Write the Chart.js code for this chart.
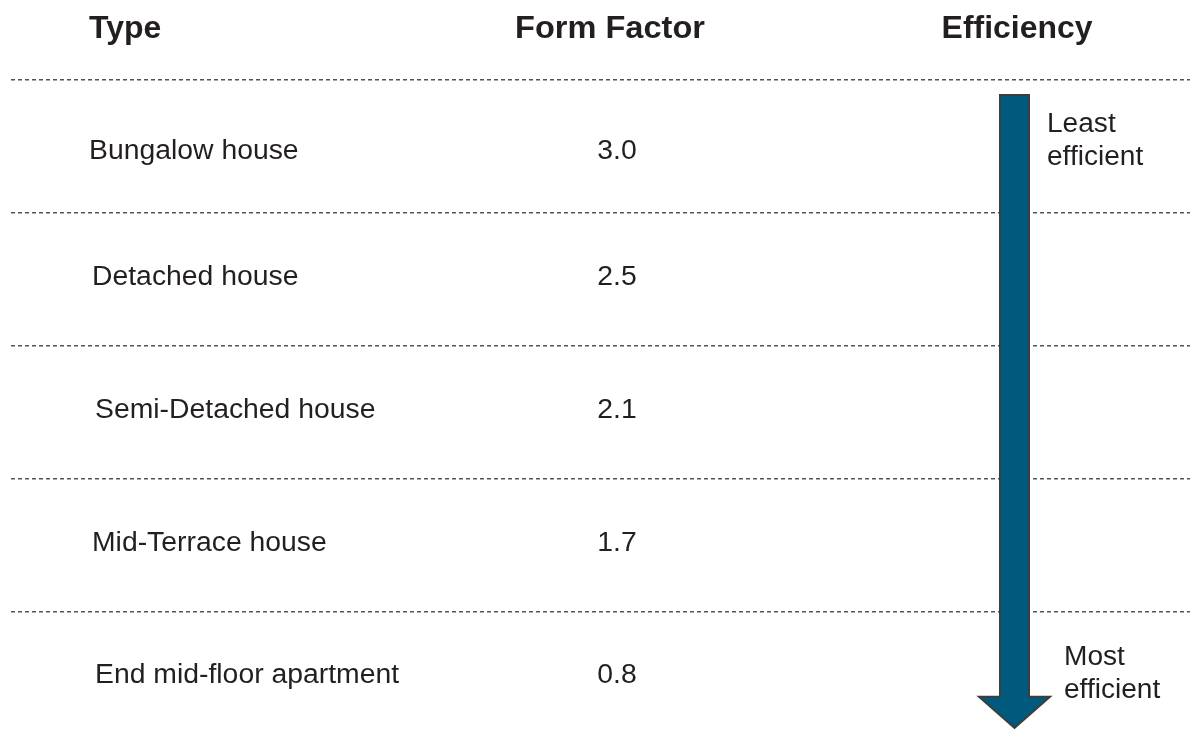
<!DOCTYPE html>
<html>
<head>
<meta charset="utf-8">
<script src="https://cdn.jsdelivr.net/npm/chart.js@4/dist/chart.umd.min.js"></script>
<style>
  html, body { margin: 0; padding: 0; background: #fff; }
  canvas { display: block; }
</style>
</head>
<body>
<canvas id="myChart" width="1195" height="743"></canvas>
<script>
const headers = ["Type", "Form Factor", "Efficiency"];
const types = ["Bungalow house", "Detached house", "Semi-Detached house", "Mid-Terrace house", "End mid-floor apartment"];
const formFactors = [3.0, 2.5, 2.1, 1.7, 0.8];
const topLabel = ["Least", "efficient"];
const bottomLabel = ["Most", "efficient"];
const rowLines = [0, 1, 2, 3, 4];

const textColor = "#231f20";
// row text spots (y in row units, x on the x scale)
const rowPos = [0.54, 1.49, 2.49, 3.49, 4.48];
const labelX = [89, 92, 95, 92, 95];

// text in the picture is a bit wider than the font, so stretch it a little
function stretchText(ctx, txt, px, py, sx) {
  ctx.save();
  ctx.translate(px, py);
  ctx.scale(sx, 1);
  ctx.fillText(txt, 0, 0);
  ctx.restore();
}

// draws the table text and the efficiency arrow using the chart scales
const tablePlugin = {
  id: "tablePlugin",
  afterDraw(chart) {
    const ctx = chart.ctx;
    const x = chart.scales.x;
    const y = chart.scales.y;
    ctx.save();
    ctx.fillStyle = textColor;
    ctx.textBaseline = "middle";

    // headers
    ctx.font = "bold 31px 'Liberation Sans', Arial, sans-serif";
    ctx.textAlign = "left";
    stretchText(ctx, headers[0], x.getPixelForValue(89), y.getPixelForValue(-0.38), 1.03);
    ctx.textAlign = "center";
    stretchText(ctx, headers[1], x.getPixelForValue(610), y.getPixelForValue(-0.38), 1.05);
    stretchText(ctx, headers[2], x.getPixelForValue(1017), y.getPixelForValue(-0.38), 1.03);

    // rows
    ctx.font = "27px 'Liberation Sans', Arial, sans-serif";
    types.forEach((t, i) => {
      const py = y.getPixelForValue(rowPos[i]);
      ctx.textAlign = "left";
      stretchText(ctx, t, x.getPixelForValue(labelX[i]), py, 1.05);
      ctx.textAlign = "center";
      stretchText(ctx, formFactors[i].toFixed(1), x.getPixelForValue(617), py, 1.05);
    });

    // arrow
    const cx = x.getPixelForValue(1014.5);
    const half = 14.5;
    const headHalf = 35.5;
    const top = y.getPixelForValue(0.117);
    const base = y.getPixelForValue(4.642);
    const tip = y.getPixelForValue(4.876);
    ctx.beginPath();
    ctx.moveTo(cx - half, top);
    ctx.lineTo(cx + half, top);
    ctx.lineTo(cx + half, base);
    ctx.lineTo(cx + headHalf, base);
    ctx.lineTo(cx, tip);
    ctx.lineTo(cx - headHalf, base);
    ctx.lineTo(cx - half, base);
    ctx.closePath();
    ctx.fillStyle = "#005a7e";
    ctx.fill();
    ctx.lineWidth = 2;
    ctx.strokeStyle = "#3d3d3d";
    ctx.stroke();

    // arrow labels
    ctx.fillStyle = textColor;
    ctx.textAlign = "left";
    ctx.textBaseline = "alphabetic";
    ctx.font = "27px 'Liberation Sans', Arial, sans-serif";
    stretchText(ctx, topLabel[0], x.getPixelForValue(1047), y.getPixelForValue(0.395), 1.04);
    stretchText(ctx, topLabel[1], x.getPixelForValue(1047), y.getPixelForValue(0.643), 1.04);
    stretchText(ctx, bottomLabel[0], x.getPixelForValue(1064), y.getPixelForValue(4.402), 1.04);
    stretchText(ctx, bottomLabel[1], x.getPixelForValue(1064), y.getPixelForValue(4.65), 1.04);
    ctx.restore();
  }
};

new Chart(document.getElementById("myChart"), {
  type: "scatter",
  data: { datasets: [{ data: [], pointRadius: 0 }] },
  options: {
    responsive: false,
    animation: false,
    events: [],
    layout: { padding: { left: 11, right: 5, top: 0, bottom: 0 } },
    plugins: { legend: { display: false }, tooltip: { enabled: false } },
    scales: {
      x: { type: "linear", min: 11, max: 1190, display: false },
      y: {
        type: "linear",
        min: -0.598,
        max: 4.989,
        reverse: true,
        afterBuildTicks: (scale) => { scale.ticks = rowLines.map(v => ({ value: v })); },
        afterFit: (scale) => { scale.width = 0; },
        ticks: { display: false },
        grid: { color: "#555", lineWidth: 1.6, drawTicks: false },
        border: { display: false, dash: [4, 3] }
      }
    }
  },
  plugins: [tablePlugin]
});
</script>
</body>
</html>
